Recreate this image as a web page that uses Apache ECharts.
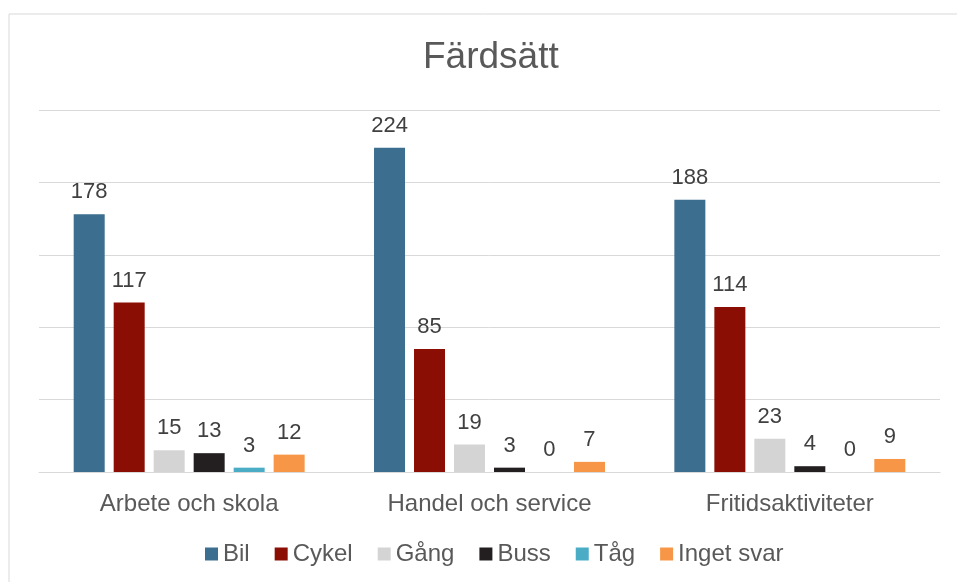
<!DOCTYPE html>
<html>
<head>
<meta charset="utf-8">
<script src="https://cdn.jsdelivr.net/npm/echarts@6/dist/echarts.min.js"></script>
<style>
  html, body { margin: 0; padding: 0; background: #fff; }
  #main { width: 957px; height: 582px; }
</style>
</head>
<body>
<div id="main"></div>
<script>
// Färdsätt - stapeldiagram
var categories = ['Arbete och skola', 'Handel och service', 'Fritidsaktiviteter'];
var seriesNames = ['Bil', 'Cykel', 'Gång', 'Buss', 'Tåg', 'Inget svar'];
var bil = [178, 224, 188];
var cykel = [117, 85, 114];
var gang = [15, 19, 23];
var buss = [13, 3, 4];
var tag = [3, 0, 0];
var ingetSvar = [12, 7, 9];
var colors = ['#3B6E8F', '#8B0E04', '#D4D4D4', '#231F20', '#4BACC6', '#F79646'];

var values = [bil, cykel, gang, buss, tag, ingetSvar];

var myChart = echarts.init(document.getElementById('main'));

var series = seriesNames.map(function (name, i) {
    return {
        name: name,
        type: 'bar',
        data: values[i],
        barWidth: 31,
        barGap: '29%',
        itemStyle: { color: colors[i] },
        label: {
            show: true,
            position: 'top',
            distance: 11,
            color: '#404040',
            fontSize: 22,
            fontFamily: 'Liberation Sans'
        }
    };
});

option = {
    textStyle: { fontFamily: 'Liberation Sans' },
    animation: false,
    color: colors,
    title: {
        text: 'Färdsätt',
        left: 418,
        top: 34,
        textStyle: {
            color: '#595959',
            fontSize: 37,
            fontWeight: 'normal',
            fontFamily: 'Liberation Sans'
        }
    },
    graphic: [{
        type: 'rect',
        shape: { x: 9, y: 14, width: 1000, height: 700 },
        style: { fill: 'none', stroke: '#D9D9D9', lineWidth: 1 },
        silent: true
    }],
    legend: {
        bottom: 11,
        left: 200,
        itemWidth: 13,
        itemHeight: 13,
        itemGap: 25,
        icon: 'rect',
        textStyle: { color: '#595959', fontSize: 24, fontFamily: 'Liberation Sans' },
        data: seriesNames
    },
    grid: {
        left: 39,
        right: 17,
        top: 110,
        bottom: 110,
        containLabel: false
    },
    xAxis: {
        type: 'category',
        data: categories,
        axisTick: { show: false },
        axisLine: { lineStyle: { color: '#D9D9D9', width: 1 } },
        axisLabel: { color: '#595959', fontSize: 24, margin: 20 }
    },
    yAxis: {
        type: 'value',
        min: 0,
        max: 250,
        interval: 50,
        axisLabel: { show: false },
        axisLine: { show: false },
        axisTick: { show: false },
        splitLine: { lineStyle: { color: '#D9D9D9', width: 1 } }
    },
    series: series
};
myChart.setOption(option);
</script>
</body>
</html>
